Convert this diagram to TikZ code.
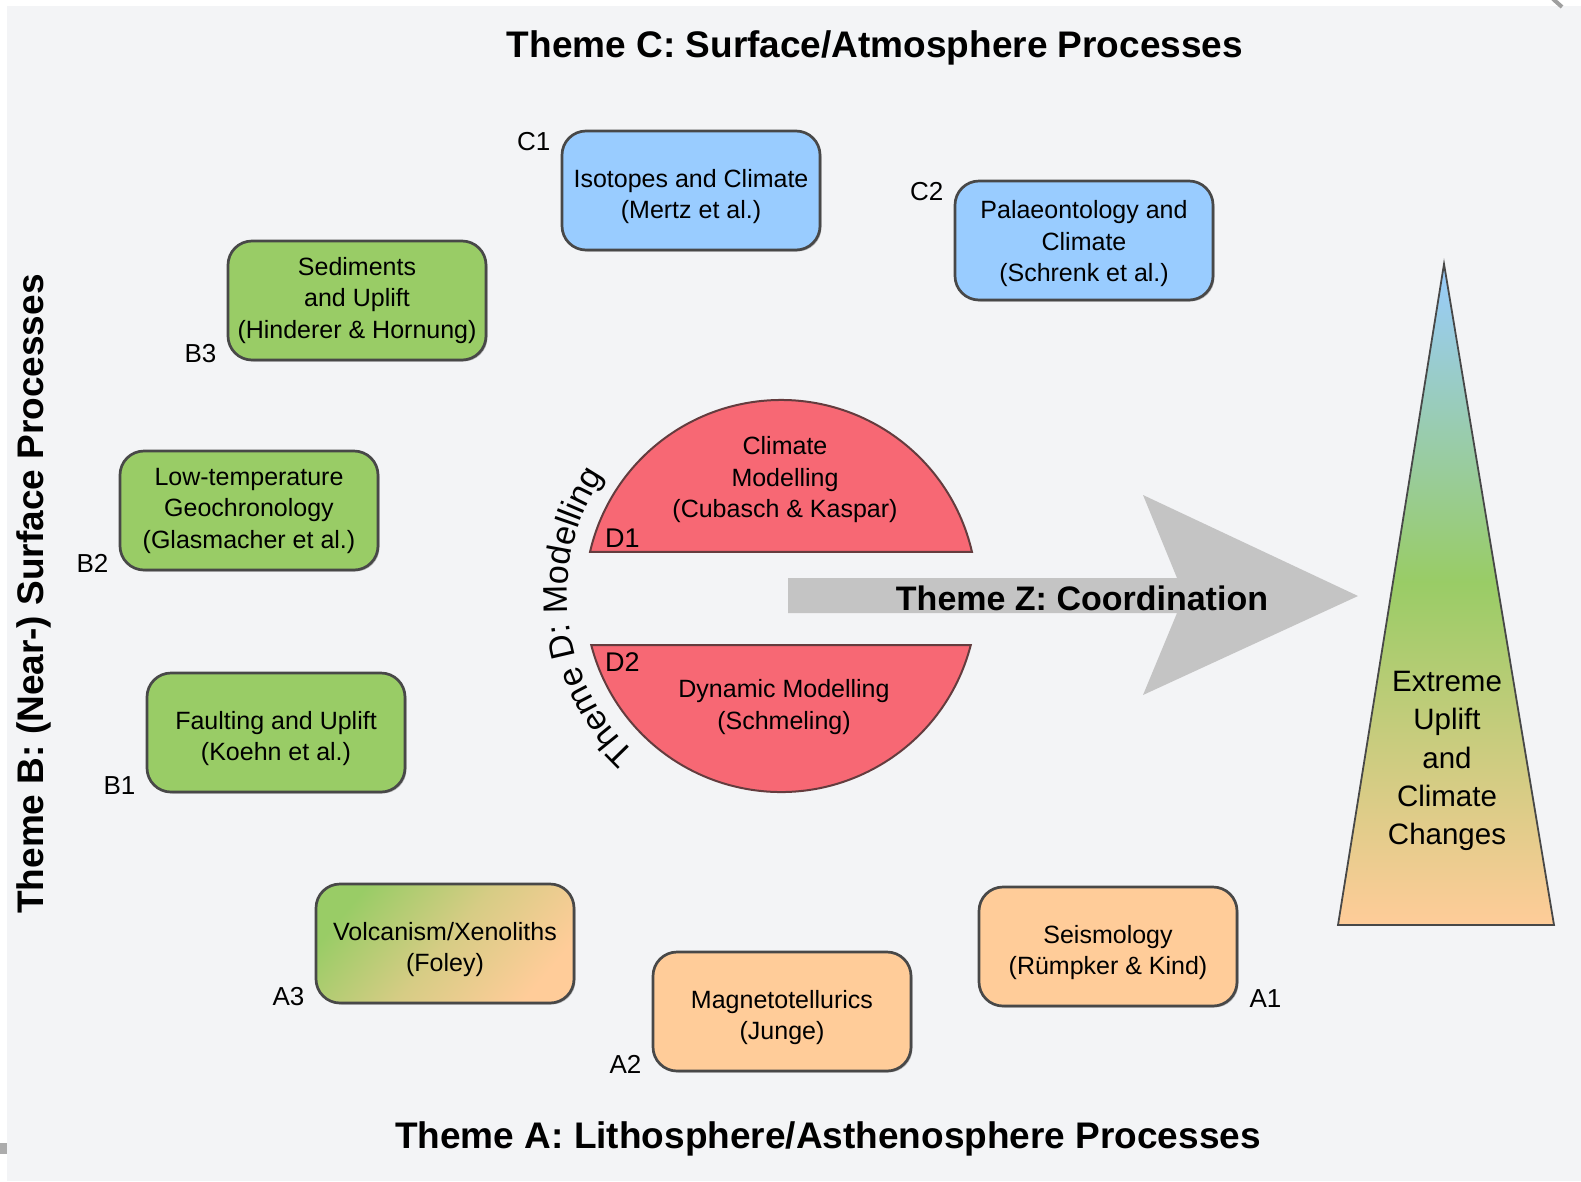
\documentclass[tikz,border=0pt]{standalone}
\usepackage{fontspec}
\setmainfont{Liberation Sans}
\usetikzlibrary{shadows,decorations.text,calc}
\definecolor{bg}{RGB}{243,244,246}
\definecolor{cblue}{RGB}{153,204,255}
\definecolor{cgreen}{RGB}{153,204,102}
\definecolor{corange}{RGB}{255,204,153}
\definecolor{cred}{RGB}{247,104,116}
\definecolor{credb}{RGB}{100,60,62}
\definecolor{cgray}{RGB}{196,196,196}
\definecolor{bord}{RGB}{72,72,72}
\newcommand\boxtop{\rule{0pt}{30pt}}
\newcommand\boxtopb{\rule{0pt}{24.5pt}}
\pgfdeclareverticalshading{trishade}{100bp}{color(0bp)=(corange); color(25bp)=(corange); color(51bp)=(cgreen); color(75bp)=(cblue); color(100bp)=(cblue)}
\begin{document}
\begin{tikzpicture}[x=1pt,y=1pt,
  box/.style={rectangle, rounded corners=24pt, minimum width=258pt, minimum height=119pt,
    draw=bord, line width=2.7pt, align=center, inner sep=0pt,
    font=\fontsize{25}{31.5}\selectfont,
    drop shadow={shadow xshift=1.5pt, shadow yshift=-1.5pt, fill=black, opacity=0.25}},
  lab/.style={font=\fontsize{26}{26}\selectfont, inner sep=0pt},
  title/.style={font=\bfseries\fontsize{37}{37}\selectfont, inner sep=0pt},
  semi/.style={fill=cred, draw=credb, line width=2pt},
  dtext/.style={align=center, inner sep=0pt, font=\fontsize{25}{31.5}\selectfont}]
\useasboundingbox (0,0) rectangle (1581,-1181);
\fill[white] (0,0) rectangle (1581,-1181);
\fill[bg] (7,-6) rectangle (1581,-1181);
\fill[gray!65] (0,-1143) rectangle (7,-1154);
\draw[gray!75, line width=4pt] (1553,1) -- (1562,-7);

% titles
\node[title, anchor=base] (tc) at (875,-57) {Theme C: Surface/Atmosphere Processes};
\node[title, anchor=base] (ta) at (828,-1148) {Theme A: Lithosphere/Asthenosphere Processes};
\node[title, rotate=90, anchor=base] (tb) at (43,-594) {Theme B: (Near-) Surface Processes};

% boxes
\node[box, fill=cblue] (c1) at (691,-190.5) {\boxtop Isotopes and Climate\\(Mertz et al.)};
\node[box, fill=cblue] (c2) at (1084,-240.5) {\boxtopb Palaeontology and\\Climate\\(Schrenk et al.)};
\node[box, fill=cgreen] (b3) at (357,-300.5) {Sediments\\and Uplift\\(Hinderer \& Hornung)};
\node[box, fill=cgreen] (b2) at (249,-510.5) {Low-temperature\\Geochronology\\(Glasmacher et al.)};
\node[box, fill=cgreen] (b1) at (276,-732.5) {\boxtop Faulting and Uplift\\(Koehn et al.)};
\node[box, top color=cgreen, bottom color=corange, middle color=corange!60!cgreen, shading angle=50] (a3) at (445,-943.5) {\boxtop Volcanism/Xenoliths\\(Foley)};
\node[box, fill=corange] (a2) at (782,-1011.5) {\boxtop Magnetotellurics\\(Junge)};
\node[box, fill=corange] (a1) at (1108,-946.5) {\boxtop Seismology\\(Rümpker \& Kind)};

% labels
\node[lab, anchor=base east] (lc1) at ($(c1.north west)+(-10,-21)$) {C1};
\node[lab, anchor=base east] (lc2) at ($(c2.north west)+(-10,-21)$) {C2};
\node[lab, anchor=base east] (lb3) at ($(b3.south west)+(-10,-1)$) {B3};
\node[lab, anchor=base east] (lb2) at ($(b2.south west)+(-10,-1)$) {B2};
\node[lab, anchor=base east] (lb1) at ($(b1.south west)+(-10,-1)$) {B1};
\node[lab, anchor=base east] (la3) at ($(a3.south west)+(-10,-1)$) {A3};
\node[lab, anchor=base east] (la2) at ($(a2.south west)+(-10,-1)$) {A2};
\node[lab, anchor=base west] (la1) at ($(a1.south east)+(11,0)$) {A1};

% modelling semicircles
\coordinate (O) at (781,-596);
\path[semi] ($(O)+(13:196)$) arc (13:167:196) -- cycle;
\path[semi] ($(O)+(-14.5:196)$) arc (-14.5:-165.5:196) -- cycle;
\node[dtext] (d1t) at (785,-480) {Climate\\Modelling\\(Cubasch \& Kaspar)};
\node[dtext] (d2t) at (784,-707) {Dynamic Modelling\\(Schmeling)};
\node[lab, font=\fontsize{27}{27}\selectfont, anchor=base west] (d1) at (605,-547) {D1};
\node[lab, font=\fontsize{27}{27}\selectfont, anchor=base west] (d2) at (605,-671) {D2};
\path[decorate, decoration={text along path, text align=center,
  text={|\fontsize{34}{34}\selectfont|Theme D: Modelling}}]
  ($(O)+(246.5:214)$) arc (246.5:126.5:214);

% coordination arrow
\fill[cgray] (788,-578) -- (1177,-578) -- (1143,-495) -- (1358,-596) -- (1143,-695) -- (1177,-613) -- (788,-613) -- cycle;
\node[font=\bfseries\fontsize{34}{34}\selectfont, anchor=base, inner sep=0pt] (tz) at (1082,-610) {Theme Z: Coordination};

% triangle
\shadedraw[shading=trishade, draw=bord, line width=1.8pt] (1444,-264) -- (1554,-925) -- (1338,-925) -- cycle;
\node[align=center, inner sep=0pt, font=\fontsize{29.5}{38.3}\selectfont] (tri) at (1447,-761) {Extreme\\Uplift\\and\\Climate\\Changes};
\end{tikzpicture}
\end{document}
